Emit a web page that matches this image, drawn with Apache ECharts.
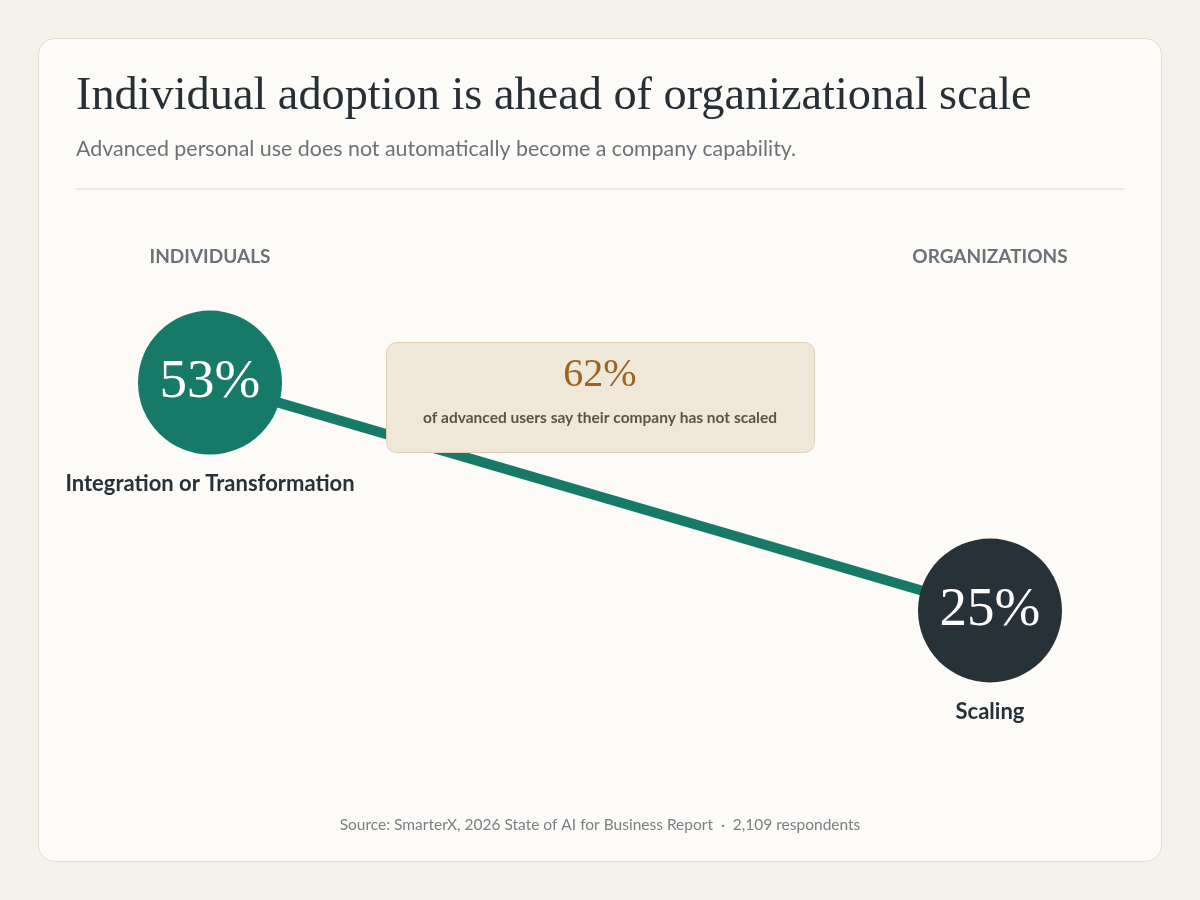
<!DOCTYPE html>
<html>
<head>
<meta charset="utf-8">
<script src="https://cdn.jsdelivr.net/npm/echarts@6/dist/echarts.min.js"></script>
<style>
  html, body { margin: 0; padding: 0; background: #f5f2eb; }
  #chart { width: 1200px; height: 900px; }
</style>
</head>
<body>
<div id="chart"></div>
<script>
// 数据：两个阶段、对应的结果标签与占比
const stages = ['INDIVIDUALS', 'ORGANIZATIONS']
const outcomes = ['Integration or Transformation', 'Scaling']
const shares = [53, 25]
const circleColors = ['#177a68', '#263238']
const calloutValue = 62
const calloutText = 'of advanced users say their company has not scaled'

const SERIF = '"Liberation Serif", "DejaVu Serif", serif'
const SANS = 'Lato, "Noto Sans", sans-serif'

const chart = echarts.init(document.getElementById('chart'))

const points = shares.map((v, i) => ({
  value: [i, v],
  name: outcomes[i],
  itemStyle: { color: circleColors[i], opacity: 1 },
}))

chart.setOption({
  backgroundColor: '#f5f2eb',
  animation: false,
  grid: { left: 210, right: 210, top: 0, bottom: 86 },
  xAxis: { type: 'value', min: 0, max: 1, show: false },
  yAxis: { type: 'value', min: 0, max: 100, show: false },
  series: [
    // 连线（在圆与注释框之下）
    {
      type: 'line',
      data: points.map((p) => p.value),
      symbol: 'none',
      lineStyle: { color: '#177a68', width: 10 },
      z: 2,
      silent: true,
    },
    // 圆 + 百分比
    {
      type: 'scatter',
      data: points,
      symbolSize: 144,
      z: 3,
      label: {
        show: true,
        position: 'inside',
        formatter: (p) => p.value[1] + '%',
        color: '#ffffff',
        fontFamily: SERIF,
        fontSize: 55,
      },
    },
    // 圆下方的结果名称
    {
      type: 'scatter',
      data: points.map((p) => ({ value: p.value, name: p.name })),
      symbolSize: 144,
      itemStyle: { color: 'rgba(0,0,0,0)', opacity: 1 },
      z: 3,
      silent: true,
      label: {
        show: true,
        position: 'bottom',
        distance: 18,
        formatter: (p) => p.name,
        color: '#263238',
        fontFamily: SANS,
        fontWeight: 'bold',
        fontSize: 22,
      },
    },
  ],
  graphic: [
    // 卡片
    {
      type: 'rect', z: -10, silent: true,
      shape: { x: 38.5, y: 38.5, width: 1123, height: 823, r: 16 },
      style: { fill: '#fcfbf8', stroke: '#e2ded3', lineWidth: 1 },
    },
    {
      type: 'text', left: 76, top: 74, z: 10,
      style: {
        text: 'Individual adoption is ahead of organizational scale',
        font: '46.3px ' + SERIF, fill: '#262f36',
      },
    },
    {
      type: 'text', left: 76, top: 139, z: 10,
      style: {
        text: 'Advanced personal use does not automatically become a company capability.',
        font: '21.4px ' + SANS, fill: '#6b7177',
      },
    },
    {
      type: 'rect', z: 10, silent: true,
      shape: { x: 76, y: 188.5, width: 1048, height: 1 },
      style: { fill: '#dcd8cc' },
    },
    // 阶段标题
    ...stages.map((s, i) => ({
      type: 'text', z: 10,
      x: i === 0 ? 210 : 990, y: 257,
      style: {
        text: s, font: 'bold 19px ' + SANS, fill: '#6b7177',
        textAlign: 'center', textVerticalAlign: 'middle',
      },
    })),
    // 注释框
    {
      type: 'rect', z: 20,
      shape: { x: 386.5, y: 342.5, width: 428, height: 110, r: 10 },
      style: { fill: '#efe7d8', stroke: '#ddd0b6', lineWidth: 1 },
    },
    {
      type: 'text', z: 21, x: 600, y: 375,
      style: {
        text: calloutValue + '%', font: '40px ' + SERIF, fill: '#9a6420',
        textAlign: 'center', textVerticalAlign: 'middle',
      },
    },
    {
      type: 'text', z: 21, x: 600, y: 418,
      style: {
        text: calloutText, font: 'bold 15.5px ' + SANS, fill: '#5e5243',
        textAlign: 'center', textVerticalAlign: 'middle',
      },
    },
    // 来源
    {
      type: 'text', z: 10, x: 600, y: 825,
      style: {
        text: 'Source: SmarterX, 2026 State of AI for Business Report  ·  2,109 respondents',
        font: '15.5px ' + SANS, fill: '#7a7f84',
        textAlign: 'center', textVerticalAlign: 'middle',
      },
    },
  ],
})
</script>
</body>
</html>
